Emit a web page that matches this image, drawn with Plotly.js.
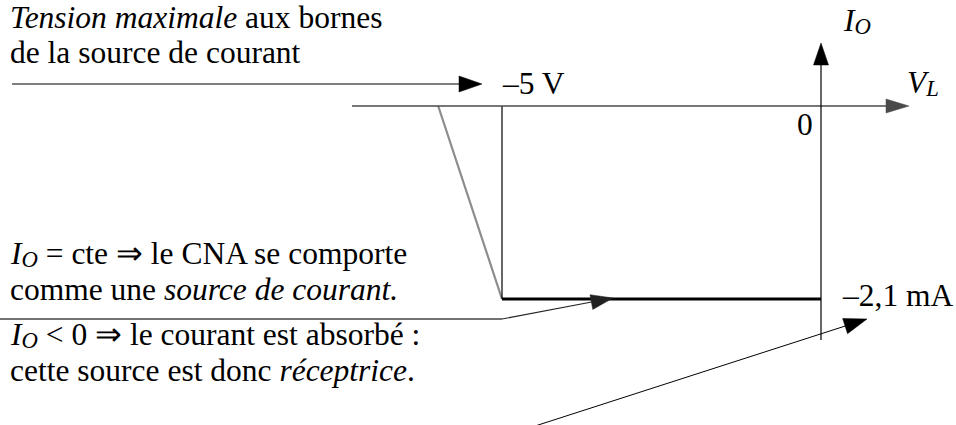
<!DOCTYPE html>
<html>
<head>
<meta charset="utf-8">
<script src="https://cdn.plot.ly/plotly-3.0.1.min.js"></script>
<style>html,body{margin:0;padding:0;background:#fff;}</style>
</head>
<body>
<div id="chart" style="width:956px;height:425px;"></div>
<script>
// ---- Data: characteristic I_O = f(V_L)  (V_L in volts, I_O in mA) ----
const vSlope  = [-6, -5];        // grey segment (limit zone)
const iSlope  = [0, -2.1];
const vSeuil  = [-5, -5];        // vertical at maximal voltage
const iSeuil  = [0, -2.1];
const vPalier = [-5, 0];         // constant-current plateau
const iPalier = [-2.1, -2.1];
const tickLabels = ['–5 V', '0', '–2,1 mA'];
const SUB = s => '<span style="font-size:72%;baseline-shift:-3px"><i>' + s + '</i></span>';
const axisLabels = ['<i>V</i>' + SUB('L'), '<i>I</i>' + SUB('O')];

// ---- Geometry (pixel layout of the figure) ----
const W = 956, H = 425;
const ORIGIN_PX = 821, ORIGIN_PY = 106;   // where V_L = 0, I_O = 0
const KX = (ORIGIN_PX - 502) / 5;          // px per volt
const KY = (299 - ORIGIN_PY) / 2.1;        // px per mA
const X = px => (px - ORIGIN_PX) / KX;
const Y = py => (ORIGIN_PY - py) / KY;
const PX = v => ORIGIN_PX + v * KX;
const PY = i => ORIGIN_PY - i * KY;

const FONT = 'Liberation Serif, Times New Roman, serif';
const FS = 31.5;

const shapes = [];
function seg(x0, y0, x1, y1, color, width) {
  shapes.push({type: 'line', xref: 'x', yref: 'y', x0: X(x0), y0: Y(y0), x1: X(x1), y1: Y(y1),
               line: {color: color, width: width}});
}
function arrow(x0, y0, x1, y1, o) {
  const color = o.color || '#000', width = o.width || 1.2, len = o.len || 22, half = o.half || 7.5;
  const dx = x1 - x0, dy = y1 - y0, L = Math.hypot(dx, dy), ux = dx / L, uy = dy / L;
  const bx = x1 - ux * len, by = y1 - uy * len;
  seg(x0, y0, bx + ux * 3, by + uy * 3, color, width);
  const p1 = [bx - uy * half, by + ux * half], p2 = [bx + uy * half, by - ux * half];
  shapes.push({type: 'path', xref: 'x', yref: 'y',
    path: `M${X(x1)},${Y(y1)} L${X(p1[0])},${Y(p1[1])} L${X(p2[0])},${Y(p2[1])} Z`,
    fillcolor: color, line: {color: color, width: 0.5}});
}

// axes
arrow(352, PY(0), 909, PY(0), {color: '#4a4a4a', width: 1.3, len: 23, half: 7});
arrow(PX(0), 340, PX(0), 43, {color: '#000', width: 1.2, len: 22, half: 7.5});
// callout arrows
arrow(12, 84, 482, 84, {color: '#000', width: 1.2, len: 23, half: 8});
seg(0, 319, PX(vPalier[0]), 319, '#444', 1.3);
arrow(PX(vPalier[0]), 319, 613, PY(iPalier[0]) - 1, {color: '#222', width: 1.1, len: 22, half: 7.5});
arrow(532, 427, 867, 319, {color: '#000', width: 1.0, len: 23, half: 8});

// texts positioned by baseline (px)
const annotations = [];
function txt(text, left, baseline, size) {
  size = size || FS;
  annotations.push({xref: 'paper', yref: 'paper', x: left / W,
    y: 1 - (baseline - 0.891 * size) / H, xanchor: 'left', yanchor: 'top',
    text: text, showarrow: false, align: 'left', borderpad: 0, borderwidth: 0,
    font: {family: FONT, size: size, color: '#000'}});
}
txt('<i>Tension maximale</i> aux bornes', 10, 28);
txt('de la source de courant', 10, 63);
txt(tickLabels[0], 502, 94);
txt(axisLabels[1], 843, 31);
txt(axisLabels[0], 907, 93);
txt(tickLabels[1], 797, 135);
txt(tickLabels[2], 842, 306);
txt('<i>I</i>' + SUB('O') + ' = cte ⇒ le CNA se comporte', 10, 264);
txt('comme une <i>source de courant.</i>', 10, 300);
txt('<i>I</i>' + SUB('O') + ' &lt; 0 ⇒ le courant est absorbé :', 10, 345);
txt('cette source est donc <i>réceptrice</i>.', 10, 381);

const traces = [
  {x: vSlope, y: iSlope, mode: 'lines', line: {color: '#8c8c8c', width: 2.2}, hoverinfo: 'skip'},
  {x: vSeuil, y: iSeuil, mode: 'lines', line: {color: '#000', width: 1.2}, hoverinfo: 'skip'},
  {x: vPalier, y: iPalier, mode: 'lines', line: {color: '#000', width: 3}, hoverinfo: 'skip'}
];

const layout = {
  width: W, height: H,
  margin: {l: 0, r: 0, t: 0, b: 0},
  paper_bgcolor: '#fff', plot_bgcolor: '#fff',
  showlegend: false, hovermode: false,
  xaxis: {range: [X(0), X(W)], visible: false, fixedrange: true},
  yaxis: {range: [Y(H), Y(0)], visible: false, fixedrange: true},
  shapes: shapes,
  annotations: annotations
};

Plotly.newPlot('chart', traces, layout, {staticPlot: true, displayModeBar: false});
</script>
</body>
</html>
